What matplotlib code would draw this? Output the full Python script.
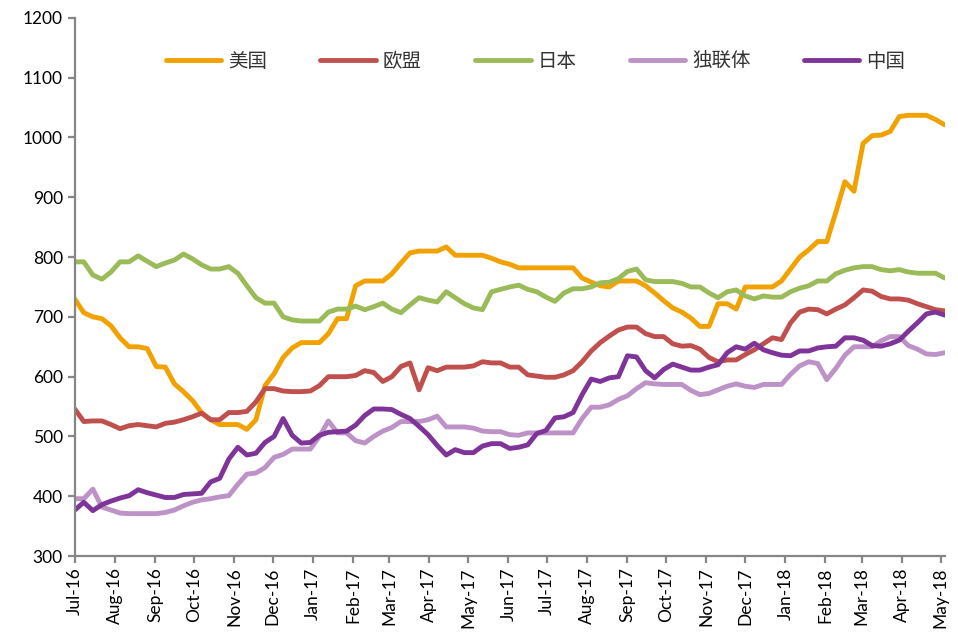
import numpy as np
import pandas as pd
import matplotlib
matplotlib.use("Agg")
import matplotlib.pyplot as plt
import matplotlib.dates as mdates

# weekly observations, Jul-2016 .. May-2018
dates = pd.date_range("2016-07-01", periods=97, freq="7D")

us = [730, 707, 700, 697, 685, 665, 650, 650, 647, 617, 616, 588, 575, 560, 540, 528,
      520, 520, 520, 512, 528, 585, 605, 632, 648, 657, 657, 657, 672, 697, 697, 752,
      760, 760, 760, 772, 790, 807, 810, 810, 810, 817, 803, 803, 803, 803, 798, 792,
      788, 782, 782, 782, 782, 782, 782, 782, 765, 758, 752, 750, 760, 760, 760, 752,
      740, 727, 715, 708, 698, 684, 684, 722, 722, 713, 750, 750, 750, 750, 760, 780,
      800, 812, 826, 826, 875, 926, 910, 990, 1003, 1004, 1010, 1035, 1037, 1037, 1037, 1030,
      1021]
eu = [546, 525, 526, 526, 520, 513, 518, 520, 518, 516, 522, 524, 528, 533, 539, 528,
      528, 540, 540, 542, 558, 580, 580, 576, 575, 575, 576, 585, 600, 600, 600, 602,
      610, 607, 592, 600, 617, 623, 578, 615, 610, 616, 616, 616, 618, 625, 623, 623,
      616, 616, 603, 601, 599, 599, 603, 610, 625, 643, 657, 668, 678, 683, 683, 672,
      667, 667, 655, 651, 652, 646, 632, 625, 628, 628, 637, 645, 655, 665, 662, 690,
      708, 713, 712, 705, 713, 720, 732, 745, 743, 734, 730, 730, 728, 722, 717, 712,
      710]
japan = [792, 792, 770, 763, 775, 792, 792, 802, 793, 784, 790, 795, 805, 797, 787, 780,
         780, 784, 773, 752, 732, 723, 723, 700, 695, 693, 693, 693, 708, 713, 713, 718,
         712, 717, 723, 713, 707, 720, 732, 728, 725, 742, 732, 722, 715, 712, 742, 746,
         750, 753, 746, 742, 733, 726, 740, 747, 747, 750, 757, 758, 764, 776, 780, 762,
         759, 759, 759, 756, 750, 750, 740, 732, 742, 745, 735, 730, 735, 733, 733, 742,
         748, 752, 760, 760, 772, 778, 782, 784, 784, 779, 777, 779, 775, 773, 773, 773,
         765]
cis = [396, 396, 412, 382, 377, 372, 371, 371, 371, 371, 373, 377, 384, 390, 394, 396,
       399, 401, 420, 437, 439, 448, 465, 470, 479, 479, 479, 500, 526, 506, 506, 493,
       489, 500, 509, 515, 525, 525, 525, 528, 534, 516, 516, 516, 514, 509, 508, 508,
       503, 502, 506, 506, 506, 506, 506, 506, 530, 549, 549, 553, 562, 568, 580, 590,
       588, 587, 587, 587, 577, 570, 572, 578, 584, 588, 584, 582, 587, 587, 587, 604,
       618, 625, 622, 595, 614, 636, 650, 650, 650, 660, 667, 667, 652, 646, 638, 637,
       640]
china = [377, 390, 376, 386, 392, 397, 401, 411, 406, 402, 398, 398, 403, 404, 405, 424,
         430, 462, 482, 469, 472, 490, 500, 530, 502, 489, 490, 502, 507, 508, 509, 519,
         535, 546, 546, 545, 537, 530, 517, 503, 485, 469, 478, 473, 473, 484, 488, 488,
         480, 482, 486, 505, 510, 531, 533, 540, 570, 596, 592, 598, 600, 635, 633, 610,
         598, 612, 621, 616, 611, 611, 616, 620, 640, 650, 646, 656, 645, 640, 636, 635,
         643, 643, 648, 650, 651, 665, 665, 661, 652, 651, 655, 661, 676, 690, 705, 708,
         703]

names = ["美国", "欧盟", "日本", "独联体", "中国"]
series = [us, eu, japan, cis, china]
colors = ["#F2A200", "#C0504D", "#9BBB59", "#BD92C6", "#7F3499"]

fig = plt.figure(figsize=(9.58, 6.37), dpi=100)
ax = fig.add_axes([0.078, 0.127, 0.908, 0.845])

for name, vals, c in zip(names, series, colors):
    ax.plot(dates, vals, color=c, lw=3.5, label=name, solid_capstyle="round",
            solid_joinstyle="round")

ax.set_ylim(300, 1200)
ax.set_yticks(np.arange(300, 1201, 100))
ax.set_xlim(dates[0], dates[-1])
ax.xaxis.set_major_locator(mdates.MonthLocator())
ax.xaxis.set_major_formatter(mdates.DateFormatter("%b-%y"))

for s in ["top", "right"]:
    ax.spines[s].set_visible(False)
for s in ["left", "bottom"]:
    ax.spines[s].set_color("#868686")
    ax.spines[s].set_linewidth(1.6)

ax.tick_params(axis="both", colors="#868686", length=5, width=1.6, direction="out",
               labelcolor="black", labelsize=12.5)
ax.tick_params(axis="x", rotation=90, pad=3)
for lab in ax.get_xticklabels() + ax.get_yticklabels():
    lab.set_fontfamily("Lato")

leg = ax.legend(loc="center left", bbox_to_anchor=(0.173, 0.903),
                bbox_transform=fig.transFigure, ncol=5, frameon=False,
                prop={"family": ["Noto Sans CJK SC", "DejaVu Sans"], "size": 14},
                handlelength=2.85, handletextpad=0.35, columnspacing=2.75,
                borderpad=0, borderaxespad=0)
for t in leg.get_texts():
    t.set_color("#333333")

fig.savefig("out.png", dpi=100)
